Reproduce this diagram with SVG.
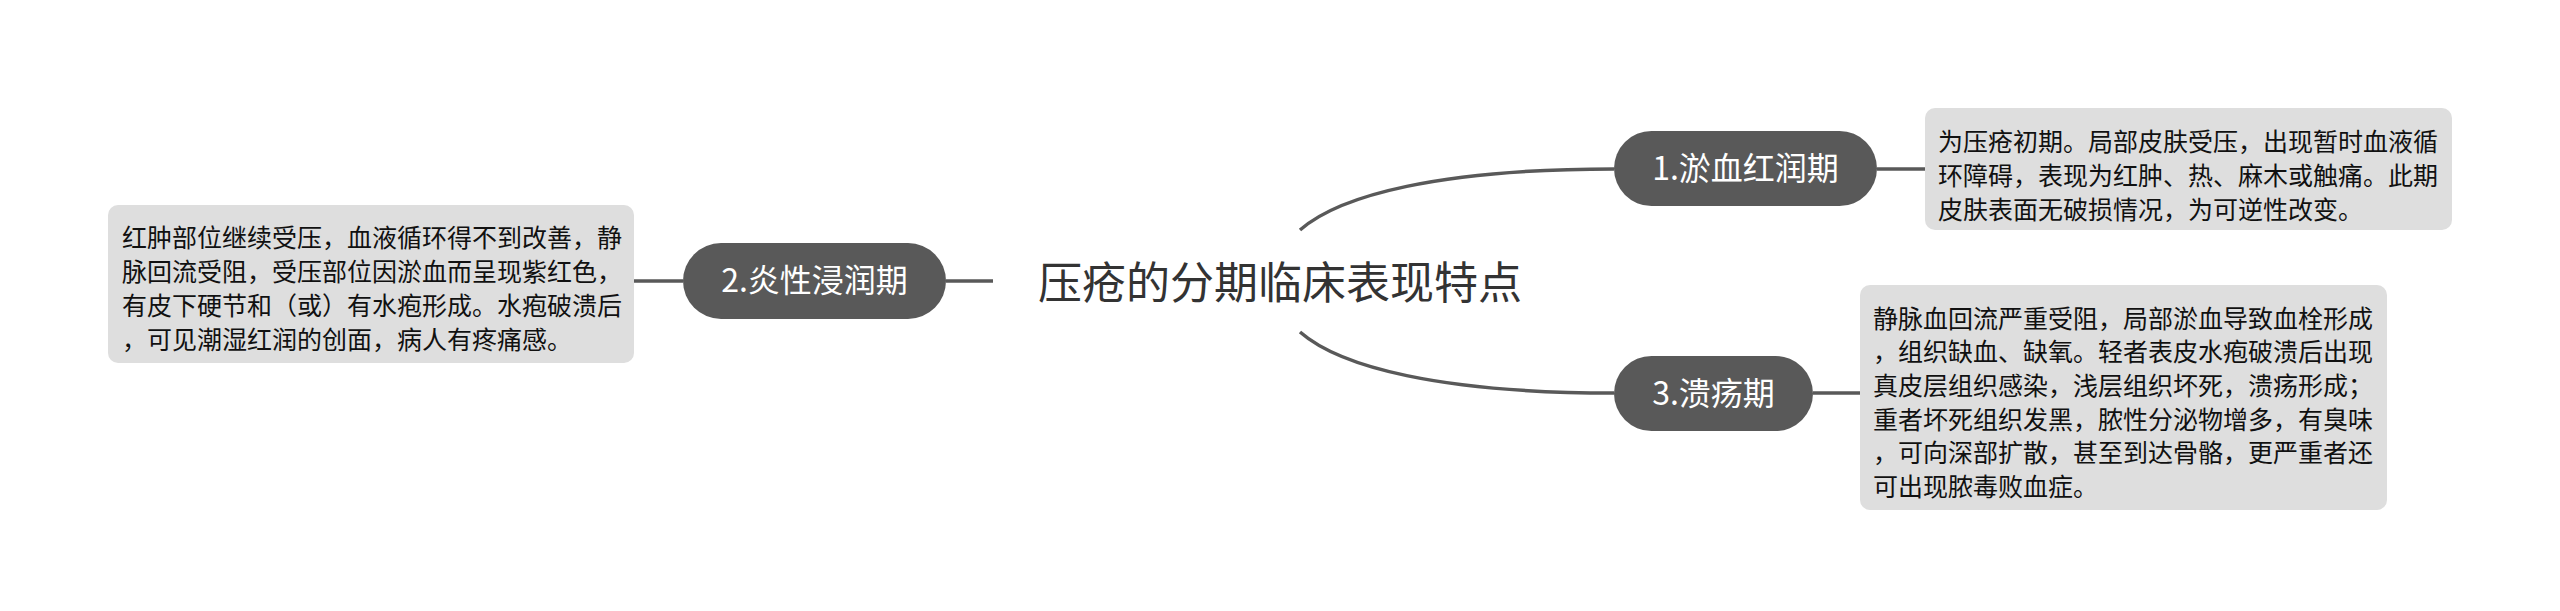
<svg xmlns="http://www.w3.org/2000/svg" width="2560" height="611" viewBox="0 0 2560 611">
<style>
.bg{fill:#ffffff}
.conn{fill:none;stroke:#595959;stroke-width:3.5;stroke-linecap:butt}
.topic{fill:#595959}
.topic-text{font-family:"Noto Sans CJK SC","Noto Sans",sans-serif;font-size:32px;fill:#ffffff;text-anchor:middle}
.note{fill:#dedede}
.note-text{font-family:"Noto Sans CJK SC","Noto Sans",sans-serif;font-size:25px;fill:#111111}
.title-text{font-family:"Noto Sans CJK SC","Noto Sans",sans-serif;font-size:44px;fill:#333333;text-anchor:middle}
</style>
<rect class="bg" x="0" y="0" width="2560" height="611"/>
<g id="connectors">
<path class="conn" d="M1300,230 C1340,195 1440,169 1614,169"/>
<path class="conn" d="M1300,332 C1340,367 1440,393 1614,393"/>
<path class="conn" d="M993,281 L946,281"/>
<path class="conn" d="M683,281 L634,281"/>
<path class="conn" d="M1877,169 L1925,169"/>
<path class="conn" d="M1813,393 L1860,393"/>
</g>
<g id="root">
<text class="title-text" x="1280" y="299">压疮的分期临床表现特点</text>
</g>
<g id="node1">
<rect class="topic" x="1614" y="131" width="263" height="75" rx="37.5"/>
<text class="topic-text" x="1745.5" y="180">1.淤血红润期</text>
</g>
<g id="node1-note">
<rect class="note" x="1925" y="108" width="527" height="122" rx="10"/>
<text class="note-text" x="1938" y="150.5">为压疮初期。局部皮肤受压，出现暂时血液循</text>
<text class="note-text" x="1938" y="184.5">环障碍，表现为红肿、热、麻木或触痛。此期</text>
<text class="note-text" x="1938" y="218.5">皮肤表面无破损情况，为可逆性改变。</text>
</g>
<g id="node2">
<rect class="topic" x="683" y="243" width="263" height="76" rx="38"/>
<text class="topic-text" x="814.5" y="292">2.炎性浸润期</text>
</g>
<g id="node2-note">
<rect class="note" x="108" y="205" width="526" height="158" rx="10"/>
<text class="note-text" x="122" y="246.5">红肿部位继续受压，血液循环得不到改善，静</text>
<text class="note-text" x="122" y="280.5">脉回流受阻，受压部位因淤血而呈现紫红色，</text>
<text class="note-text" x="122" y="314.5">有皮下硬节和（或）有水疱形成。水疱破溃后</text>
<text class="note-text" x="122" y="348.5">，可见潮湿红润的创面，病人有疼痛感。</text>
</g>
<g id="node3">
<rect class="topic" x="1614" y="356" width="199" height="75" rx="37.5"/>
<text class="topic-text" x="1713.5" y="405">3.溃疡期</text>
</g>
<g id="node3-note">
<rect class="note" x="1860" y="285" width="527" height="225" rx="10"/>
<text class="note-text" x="1873" y="327.5">静脉血回流严重受阻，局部淤血导致血栓形成</text>
<text class="note-text" x="1873" y="361.2">，组织缺血、缺氧。轻者表皮水疱破溃后出现</text>
<text class="note-text" x="1873" y="394.9">真皮层组织感染，浅层组织坏死，溃疡形成；</text>
<text class="note-text" x="1873" y="428.6">重者坏死组织发黑，脓性分泌物增多，有臭味</text>
<text class="note-text" x="1873" y="462.3">，可向深部扩散，甚至到达骨骼，更严重者还</text>
<text class="note-text" x="1873" y="496">可出现脓毒败血症。</text>
</g>
</svg>
